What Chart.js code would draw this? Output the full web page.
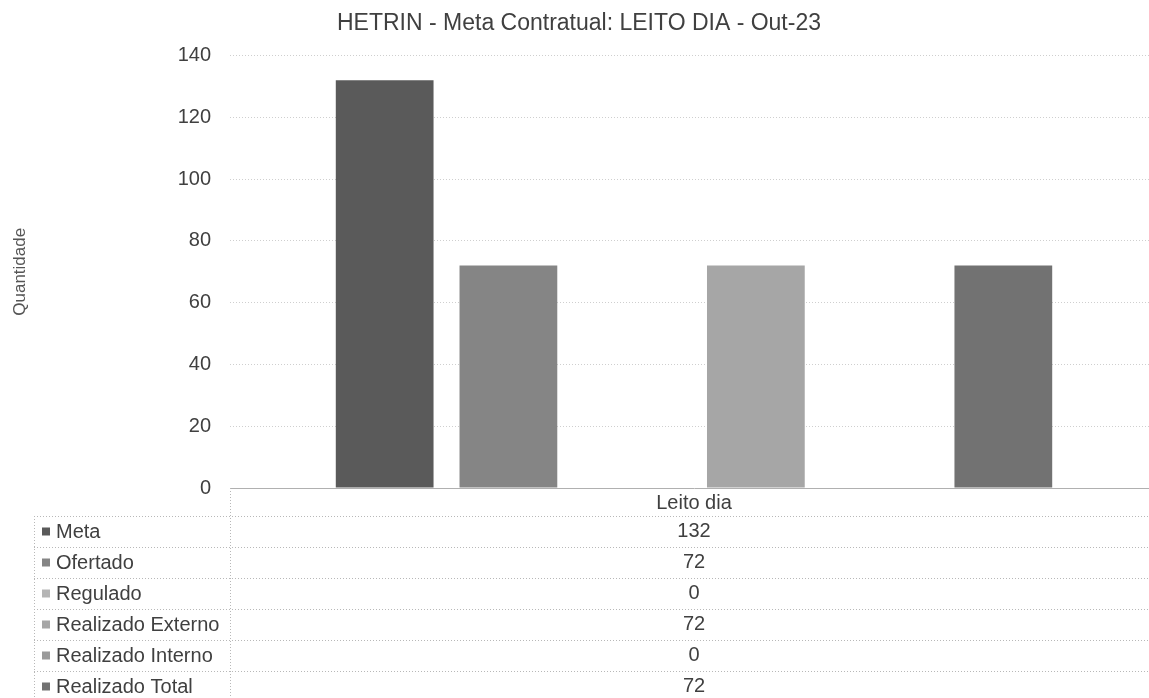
<!DOCTYPE html>
<html>
<head>
<meta charset="utf-8">
<title>HETRIN - Meta Contratual: LEITO DIA - Out-23</title>
<script src="https://cdn.jsdelivr.net/npm/chart.js"></script>
<style>
  html, body { margin: 0; padding: 0; background: #fff; overflow: hidden; }
  #wrap { width: 1158px; height: 698px; }
</style>
</head>
<body>
<div id="wrap"><canvas id="chart" width="1158" height="698"></canvas></div>
<script>
// dados do gráfico
const categories = ['Leito dia'];
const seriesNames = ['Meta', 'Ofertado', 'Regulado', 'Realizado Externo', 'Realizado Interno', 'Realizado Total'];
const seriesValues = [132, 72, 0, 72, 0, 72];
const seriesColors = ['#5a5a5a', '#858585', '#b5b5b5', '#a6a6a6', '#9a9a9a', '#727272'];
const yTicks = [0, 20, 40, 60, 80, 100, 120, 140];

const FONT = '"Liberation Sans", Arial, sans-serif';
const TEXT = '#404040';

// tabela de dados abaixo do eixo
const dataTable = {
  id: 'dataTable',
  afterDraw(chart) {
    const ctx = chart.ctx;
    const area = chart.chartArea;
    const top = area.bottom;
    const left = 34, split = area.left, right = chart.width;
    const headH = 28, rowH = 31;
    const cx = chart.scales.x.getPixelForValue(0);

    ctx.save();
    ctx.strokeStyle = '#b8b8b8';
    ctx.lineWidth = 1;
    ctx.setLineDash([1, 2]);
    ctx.beginPath();
    ctx.moveTo(split + 0.5, top);
    ctx.lineTo(split + 0.5, chart.height);
    ctx.moveTo(left + 0.5, top + headH);
    ctx.lineTo(left + 0.5, chart.height);
    for (let i = 0; i <= chart.data.datasets.length; i++) {
      const y = Math.round(top + headH + i * rowH) + 0.5;
      ctx.moveTo(left, y);
      ctx.lineTo(right, y);
    }
    ctx.stroke();
    ctx.setLineDash([]);

    ctx.font = '20px ' + FONT;
    ctx.fillStyle = TEXT;
    ctx.textBaseline = 'middle';
    ctx.textAlign = 'center';
    ctx.fillText(categories[0], cx, top + headH / 2 + 1);

    chart.data.datasets.forEach((ds, i) => {
      const y = top + headH + i * rowH + rowH / 2;
      ctx.fillStyle = ds.backgroundColor;
      ctx.fillRect(42, y - 4, 8, 8);
      ctx.fillStyle = TEXT;
      ctx.textAlign = 'left';
      ctx.fillText(ds.label, 56, y + 1);
      ctx.textAlign = 'center';
      ctx.fillText(String(ds.data[0]), cx, y);
    });
    ctx.restore();
  }
};

const datasets = seriesNames.map((name, i) => ({
  label: name,
  data: [seriesValues[i]],
  backgroundColor: seriesColors[i],
  borderWidth: 0,
  categoryPercentage: 0.8,
  barPercentage: 0.79
}));

new Chart(document.getElementById('chart'), {
  type: 'bar',
  data: { labels: categories, datasets: datasets },
  plugins: [dataTable],
  options: {
    responsive: false,
    animation: false,
    layout: { padding: { left: 0, right: 0, top: 0, bottom: 202 } },
    plugins: {
      legend: { display: false },
      tooltip: { enabled: false },
      title: {
        display: true,
        text: 'HETRIN - Meta Contratual: LEITO DIA - Out-23',
        color: TEXT,
        font: { family: FONT, size: 23, weight: 'normal' },
        padding: { top: 10, bottom: 18 }
      }
    },
    scales: {
      x: {
        ticks: { display: false },
        grid: { display: false },
        border: { display: true, color: '#b0b0b0' }
      },
      y: {
        min: 0,
        max: 140,
        afterBuildTicks: (scale) => { scale.ticks = yTicks.map(v => ({ value: v })); },
        afterFit: (scale) => { scale.width = 230; },
        ticks: { color: TEXT, padding: 19, font: { family: FONT, size: 20 } },
        grid: { color: '#cfcfcf', drawTicks: false },
        border: { display: false, dash: [1, 2] },
        title: {
          display: true,
          text: 'Quantidade',
          color: '#555',
          font: { family: FONT, size: 17 },
          padding: { top: 10, bottom: 0 }
        }
      }
    }
  }
});
</script>
</body>
</html>
